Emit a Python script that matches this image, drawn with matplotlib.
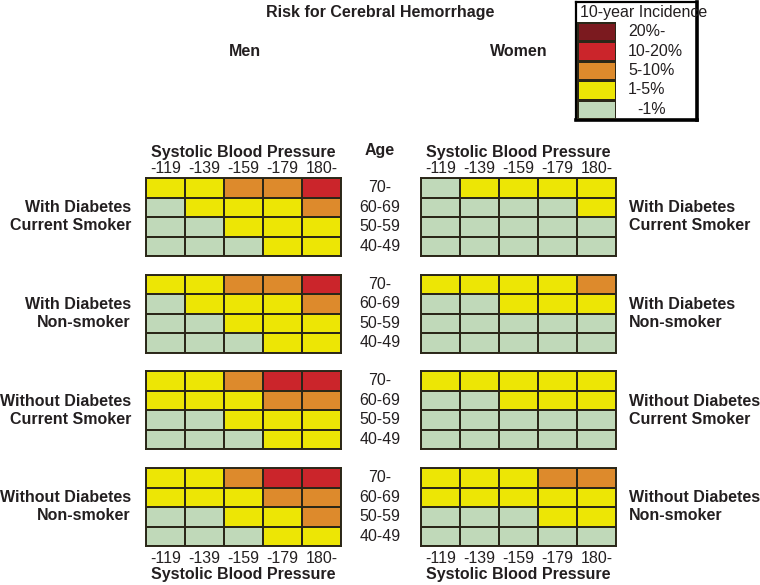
import numpy as np
import matplotlib.pyplot as plt
from matplotlib.colors import ListedColormap, BoundaryNorm
from matplotlib.transforms import blended_transform_factory

plt.rcParams['font.family'] = ['Liberation Sans', 'DejaVu Sans']
plt.rcParams['font.size'] = 11.5
plt.rcParams['text.color'] = '#231f20'
plt.rcParams['xtick.color'] = '#231f20'
plt.rcParams['axes.labelcolor'] = '#231f20'

# risk levels: 0 = -1%, 1 = 1-5%, 2 = 5-10%, 3 = 10-20%, 4 = 20%-
sbp_labels = ['-119', '-139', '-159', '-179', '180-']
age_labels = ['70-', '60-69', '50-59', '40-49']
group_labels = ['With Diabetes\nCurrent Smoker', 'With Diabetes\nNon-smoker',
                'Without Diabetes\nCurrent Smoker', 'Without Diabetes\nNon-smoker']
level_labels = ['-1%', '1-5%', '5-10%', '10-20%', '20%-']
level_colors = ['#c0d9b9', '#ede605', '#dd8a2c', '#cb252b', '#7b1a1f']

men_diab_smoker = [[1, 1, 2, 2, 3], [0, 1, 1, 1, 2], [0, 0, 1, 1, 1], [0, 0, 0, 1, 1]]
men_diab_nonsmoker = [[1, 1, 2, 2, 3], [0, 1, 1, 1, 2], [0, 0, 1, 1, 1], [0, 0, 0, 1, 1]]
men_nodiab_smoker = [[1, 1, 2, 3, 3], [1, 1, 1, 2, 2], [0, 0, 1, 1, 1], [0, 0, 0, 1, 1]]
men_nodiab_nonsmoker = [[1, 1, 2, 3, 3], [1, 1, 1, 2, 2], [0, 0, 1, 1, 2], [0, 0, 0, 1, 1]]

women_diab_smoker = [[0, 1, 1, 1, 1], [0, 0, 0, 0, 1], [0, 0, 0, 0, 0], [0, 0, 0, 0, 0]]
women_diab_nonsmoker = [[1, 1, 1, 1, 2], [0, 0, 1, 1, 1], [0, 0, 0, 0, 0], [0, 0, 0, 0, 0]]
women_nodiab_smoker = [[1, 1, 1, 1, 1], [0, 0, 1, 1, 1], [0, 0, 0, 0, 0], [0, 0, 0, 0, 0]]
women_nodiab_nonsmoker = [[1, 1, 1, 2, 2], [1, 1, 1, 1, 1], [0, 0, 0, 1, 1], [0, 0, 0, 0, 0]]

men = [men_diab_smoker, men_diab_nonsmoker, men_nodiab_smoker, men_nodiab_nonsmoker]
women = [women_diab_smoker, women_diab_nonsmoker, women_nodiab_smoker, women_nodiab_nonsmoker]

cmap = ListedColormap(level_colors)
norm = BoundaryNorm(np.arange(-0.5, 5.5), cmap.N)
edge = '#2b2718'

W, H = 760, 585
fig = plt.figure(figsize=(W / 100, H / 100), dpi=100)


def px_axes(x0, y0, w, h):
    return fig.add_axes([x0 / W, 1 - (y0 + h) / H, w / W, h / H])


def px_text(x, y, s, **kw):
    fig.text(x / W, 1 - y / H, s, **kw)


def draw_grid(ax, grid):
    ax.pcolormesh(np.array(grid), cmap=cmap, norm=norm, edgecolors=edge, linewidth=1.2)
    ax.set_xlim(0, 5)
    ax.set_ylim(4, 0)
    ax.set_yticks([])
    for sp in ax.spines.values():
        sp.set_linewidth(1.4)
        sp.set_color(edge)


tops = [178, 274.5, 371, 468]
men_x, women_x = 146, 421
grid_w, grid_h = 195, 78

for i in range(4):
    for side, (x0, data) in enumerate([(men_x, men), (women_x, women)]):
        ax = px_axes(x0, tops[i], grid_w, grid_h)
        draw_grid(ax, data[i])
        if i == 0:
            ax.xaxis.tick_top()
            ax.xaxis.set_label_position('top')
            ax.set_xticks(np.arange(5) + 0.5, sbp_labels)
            ax.set_xlabel('Systolic Blood Pressure', fontweight='bold', labelpad=3)
            ax.tick_params(axis='x', length=0, pad=1.5)
        elif i == 3:
            ax.set_xticks(np.arange(5) + 0.5, sbp_labels)
            ax.set_xlabel('Systolic Blood Pressure', fontweight='bold', labelpad=1)
            ax.tick_params(axis='x', length=0, pad=3.5)
        else:
            ax.set_xticks([])

        tr = blended_transform_factory(ax.transAxes, ax.transData)
        if side == 0:
            for r, age in enumerate(age_labels):
                ax.text((380 - men_x) / grid_w, r + 0.5, age, transform=tr,
                        ha='center', va='center')
            ax.text(-15 / grid_w, 2, group_labels[i], transform=tr, ha='right',
                    va='center', fontweight='bold', linespacing=1.25)
        else:
            ax.text(208 / grid_w, 2, group_labels[i], transform=tr, ha='left',
                    va='center', fontweight='bold', linespacing=1.25)

px_text(380, 150, 'Age', ha='center', va='center', fontweight='bold')
px_text(380, 13, 'Risk for Cerebral Hemorrhage', ha='center', va='center', fontweight='bold')
px_text(245, 52, 'Men', ha='center', va='center', fontweight='bold')
px_text(519, 52, 'Women', ha='center', va='center', fontweight='bold')

# legend box
box = px_axes(576, 2, 121, 118)
box.set_xticks([])
box.set_yticks([])
box.patch.set_alpha(0)
box.spines['left'].set_linewidth(1.6)
box.spines['top'].set_linewidth(1.6)
box.spines['right'].set_linewidth(2.6)
box.spines['bottom'].set_linewidth(2.6)

leg = px_axes(577, 22, 39, 97)
leg_levels = np.arange(5)[::-1].reshape(-1, 1)
leg.pcolormesh(leg_levels, cmap=cmap, norm=norm, edgecolors=edge, linewidth=0.8)
leg.set_ylim(5, 0)
leg.set_xlim(0, 1)
leg.axis('off')
tr = blended_transform_factory(leg.transAxes, leg.transData)
for r, lev in enumerate(leg_levels[:, 0]):
    xoff = 60 if lev == 0 else 51
    leg.text(xoff / 39, r + 0.5, level_labels[lev], transform=tr, ha='left', va='center')

px_text(580, 13, '10-year Incidence', ha='left', va='center')

fig.savefig('out.png', dpi=100)
